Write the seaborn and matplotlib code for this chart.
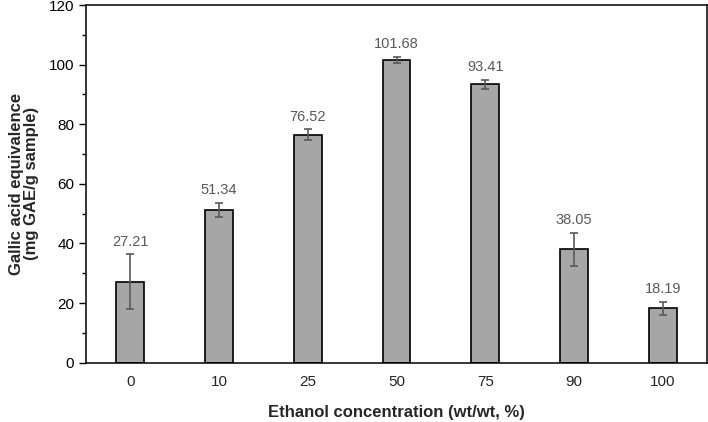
import numpy as np
import pandas as pd
import matplotlib
matplotlib.use("Agg")
import matplotlib.pyplot as plt
import seaborn as sns
from matplotlib.ticker import MultipleLocator

# data
concentration = ["0", "10", "25", "50", "75", "90", "100"]
gae = [27.21, 51.34, 76.52, 101.68, 93.41, 38.05, 18.19]
gae_err = [9.1, 2.3, 1.8, 1.0, 1.5, 5.6, 2.3]

df = pd.DataFrame({"Ethanol": concentration, "GAE": gae, "err": gae_err})

sns.set_theme(style="white")
plt.rcParams["font.family"] = ["Liberation Sans", "DejaVu Sans"]

fig = plt.figure(figsize=(7.08, 4.22), dpi=100)
ax = fig.add_axes([86 / 708, 1 - 362.7 / 422, 621 / 708, 357.7 / 422])

sns.barplot(data=df, x="Ethanol", y="GAE", order=concentration, color="#a6a6a6",
            saturation=1, width=0.315, edgecolor="black", linewidth=1.2,
            errorbar=None, ax=ax)

# error bars and value labels on each bar
for patch, v, e in zip(ax.patches, df["GAE"], df["err"]):
    xc = patch.get_x() + patch.get_width() / 2
    ax.errorbar(xc, v, yerr=e, color="#595959", elinewidth=1.2,
                capsize=3, capthick=1.2, fmt="none")
    ax.annotate(f"{v:.2f}", (xc, v + e), xytext=(0, 4), textcoords="offset points",
                ha="center", va="bottom", fontsize=10.5, color="#595959")

ax.set_ylim(0, 120)
ax.set_xlim(-0.5, 6.5)
ax.yaxis.set_major_locator(MultipleLocator(20))
ax.yaxis.set_minor_locator(MultipleLocator(10))
ax.tick_params(axis="y", which="major", direction="out", length=5, width=1,
               color="black", labelsize=11, labelcolor="#000000", left=True)
ax.tick_params(axis="y", which="minor", direction="out", length=3, width=1,
               color="black", left=True)
ax.tick_params(axis="x", length=0, labelsize=11, pad=9)

for s in ax.spines.values():
    s.set_visible(True)
    s.set_color("black")
    s.set_linewidth(1.1)

ax.set_xlabel("Ethanol concentration (wt/wt, %)", fontsize=12, fontweight="bold")
ax.set_ylabel("Gallic acid equivalence\n(mg GAE/g sample)", fontsize=12,
              fontweight="bold", linespacing=1.0)
ax.xaxis.set_label_coords(0.5, -0.138)
ax.xaxis.label.set_va("center")
ax.yaxis.set_label_coords(-0.1, 0.5)
ax.yaxis.label.set_va("center")

fig.savefig("out.png", dpi=100)
